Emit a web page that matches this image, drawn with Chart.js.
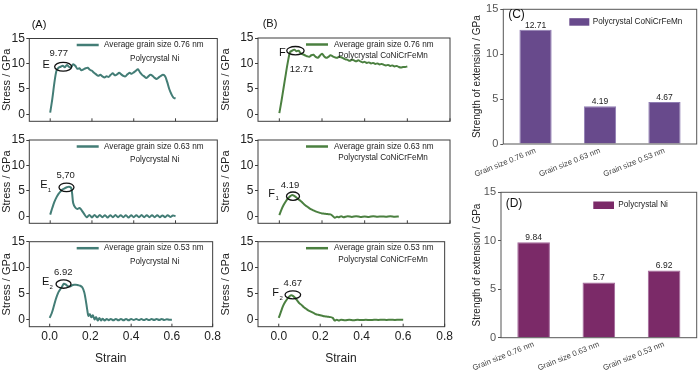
<!DOCTYPE html>
<html><head><meta charset="utf-8">
<script src="https://cdn.jsdelivr.net/npm/chart.js@4.4.0/dist/chart.umd.min.js"></script>
<style>
html,body{margin:0;padding:0;background:#fff;width:700px;height:382px;overflow:hidden;}
canvas{position:absolute;}
</style></head><body>
<canvas id="a1" width="224" height="130" style="left:0;top:0"></canvas>
<canvas id="a2" width="224" height="104" style="left:0;top:128px"></canvas>
<canvas id="a3" width="224" height="150" style="left:0;top:232px"></canvas>
<canvas id="b1" width="240" height="130" style="left:216px;top:0"></canvas>
<canvas id="b2" width="240" height="104" style="left:216px;top:128px"></canvas>
<canvas id="b3" width="240" height="150" style="left:216px;top:232px"></canvas>
<canvas id="c" width="240" height="186" style="left:460px;top:0"></canvas>
<canvas id="d" width="240" height="200" style="left:460px;top:182px"></canvas>
<script>
// ---------- data ----------
const strainTicks = [0, 0.2, 0.4, 0.6, 0.8];
const strainTickLabels = ['0.0', '0.2', '0.4', '0.6', '0.8'];
const stressTicks = [0, 5, 10, 15];
const stressTickLabels = ['0', '5', '10', '15'];

const grid61 = [0,0.01,0.02,0.03,0.04,0.05,0.06,0.07,0.08,0.09,0.10,0.11,0.12,0.13,0.14,0.15,0.16,0.17,0.18,0.19,0.20,0.21,0.22,0.23,0.24,0.25,0.26,0.27,0.28,0.29,0.30,0.31,0.32,0.33,0.34,0.35,0.36,0.37,0.38,0.39,0.40,0.41,0.42,0.43,0.44,0.45,0.46,0.47,0.48,0.49,0.50,0.51,0.52,0.53,0.54,0.55,0.56,0.57,0.58,0.59,0.60];

// Polycrystal Ni, 0.76 nm
const strainNi76 = grid61;
const stressNi76 = [0.3,3.0,6.2,8.6,9.2,9.4,9.6,9.3,9.77,9.4,9.3,9.9,9.6,9.0,9.1,8.7,8.9,9.1,9.2,8.8,8.6,8.2,7.9,7.6,7.8,7.5,7.3,7.5,7.4,7.8,8.1,7.7,7.9,8.2,7.9,7.6,7.5,7.9,8.2,8.0,8.3,8.6,8.9,8.3,7.8,7.5,7.2,7.5,7.8,7.6,7.2,7.0,7.3,7.6,7.8,7.5,6.4,5.0,4.0,3.3,3.1];

// Polycrystal Ni, 0.63 nm
const strainNi63 = [0,0.01,0.02,0.03,0.04,0.05,0.06,0.07,0.08,0.09,0.10,0.105,0.11,0.12,0.13,0.14,0.15,0.16,0.175,0.1875,0.2,0.2125,0.225,0.2375,0.25,0.2625,0.275,0.2875,0.3,0.3125,0.325,0.3375,0.35,0.3625,0.375,0.3875,0.4,0.4125,0.425,0.4375,0.45,0.4625,0.475,0.4875,0.5,0.5125,0.525,0.5375,0.55,0.5625,0.575,0.5875,0.6];
const stressNi63 = [0.3,1.6,2.8,3.7,4.4,4.9,5.3,5.5,5.7,5.8,5.6,4.5,2.6,1.7,1.4,1.6,1.2,0.6,-0.2,0.25,-0.25,0.25,-0.2,0.25,-0.2,0.2,-0.25,0.2,-0.2,0.25,-0.2,0.2,-0.2,0.2,-0.25,0.2,-0.2,0.2,-0.2,0.25,-0.2,0.2,-0.2,0.2,-0.2,0.2,-0.2,0.15,-0.2,0.2,-0.15,0.15,0.0];

// Polycrystal Ni, 0.53 nm
const strainNi53 = [0,0.01,0.02,0.03,0.04,0.05,0.06,0.07,0.08,0.09,0.10,0.11,0.12,0.13,0.14,0.15,0.16,0.17,0.175,0.18,0.185,0.19,0.197,0.205,0.212,0.22,0.228,0.236,0.244,0.252,0.26,0.27,0.28,0.29,0.3,0.3125,0.325,0.3375,0.35,0.3625,0.375,0.3875,0.4,0.4125,0.425,0.4375,0.45,0.4625,0.475,0.4875,0.5,0.5125,0.525,0.5375,0.55,0.5625,0.575,0.5875,0.6];
const stressNi53 = [0.3,1.2,2.5,3.9,5.0,5.7,6.3,6.9,6.7,6.4,6.35,6.6,6.7,6.7,6.6,6.5,6.2,5.2,4.2,3.0,1.7,0.7,1.0,0.4,0.8,0.0,0.45,-0.2,0.3,-0.2,0.15,-0.2,0.1,-0.15,0.1,-0.15,0.1,-0.15,0.1,-0.15,0.1,-0.15,0.1,-0.12,0.1,-0.12,0.08,-0.12,0.08,-0.12,0.08,-0.1,0.08,-0.1,0.08,-0.1,0.05,-0.08,-0.05];

// Polycrystal CoNiCrFeMn, 0.76 nm
const strainCo76 = grid61;
const stressCo76 = [0.2,2.6,5.2,7.8,10.3,12.2,12.5,12.71,12.4,12.5,12.0,11.8,11.6,11.4,11.3,11.6,11.7,11.3,11.1,11.5,11.9,11.4,11.1,11.3,11.6,11.4,11.2,11.1,11.3,11.2,11.0,10.8,10.7,10.5,10.7,10.6,10.4,10.6,10.4,10.2,10.3,10.1,10.2,10.0,10.1,9.9,10.0,9.8,9.9,9.7,9.6,9.7,9.5,9.6,9.4,9.5,9.3,9.2,9.3,9.3,9.4];

// Polycrystal CoNiCrFeMn, 0.63 nm
const strainCo63 = [0,0.01,0.02,0.03,0.04,0.05,0.06,0.07,0.08,0.09,0.10,0.11,0.12,0.13,0.14,0.15,0.16,0.17,0.18,0.19,0.20,0.21,0.22,0.23,0.24,0.25,0.26,0.27,0.28,0.29,0.30,0.32,0.34,0.36,0.38,0.40,0.42,0.44,0.46,0.48,0.50,0.52,0.54,0.56];
const stressCo63 = [0.2,1.3,2.2,2.9,3.5,3.9,4.19,4.0,3.7,3.3,3.0,2.6,2.2,1.9,1.6,1.35,1.15,0.95,0.8,0.65,0.55,0.5,0.45,0.4,0.35,0.05,-0.3,-0.1,-0.2,0.0,-0.2,0.0,-0.15,0.0,-0.15,-0.05,-0.15,0.0,-0.1,-0.05,-0.1,0.0,-0.1,-0.05];

// Polycrystal CoNiCrFeMn, 0.53 nm
const strainCo53 = [0,0.01,0.02,0.03,0.04,0.05,0.06,0.07,0.08,0.09,0.10,0.11,0.12,0.13,0.14,0.15,0.16,0.17,0.18,0.19,0.20,0.21,0.22,0.23,0.24,0.25,0.26,0.27,0.28,0.29,0.30,0.32,0.34,0.36,0.38,0.40,0.42,0.44,0.46,0.48,0.50,0.52,0.54,0.56,0.58,0.60];
const stressCo53 = [0.3,1.4,2.5,3.3,3.9,4.4,4.67,4.5,4.1,3.6,3.1,2.8,2.4,2.1,1.8,1.6,1.4,1.2,1.0,0.9,0.8,0.7,0.6,0.55,0.5,0.45,0.3,-0.2,-0.05,-0.2,-0.05,-0.15,-0.05,-0.15,-0.05,-0.12,-0.05,-0.12,-0.05,-0.1,-0.05,-0.1,-0.05,-0.1,-0.05,-0.08];

const peakLabelsNi = ['9.77', '5,70', '6.92'];
const peakLabelsCo = ['12.71', '4.19', '4.67'];
const legendSizes = ['Average grain size 0.76 nm', 'Average grain size 0.63 nm', 'Average grain size 0.53 nm'];

const grainLabels = ['Grain size 0.76 nm', 'Grain size 0.63 nm', 'Grain size 0.53 nm'];
const strengthCoNi = [12.71, 4.19, 4.67];
const strengthNi = [9.84, 5.7, 6.92];
const strengthTicks = [0, 5, 10, 15];

// ---------- styling ----------
const FAM = '"Liberation Sans", Arial, Helvetica, sans-serif';
Chart.defaults.font.family = FAM;
Chart.defaults.color = '#222';
const F = (s) => s + 'px ' + FAM;
const colNi = '#437d76';
const colCo = '#4b8040';
const colBarCo = '#684a8c';
const colBarNi = '#7b2a68';

const deco = {
  id: 'deco',
  afterDraw(chart, _a, o) {
    if (!o || !o.on) return;
    const c = chart.ctx, a = chart.chartArea, X = chart.scales.x, Y = chart.scales.y;
    c.save();
    c.strokeStyle = o.frame; c.lineWidth = 1;
    c.strokeRect(a.left, a.top, a.right - a.left, a.bottom - a.top);
    if (o.inTicks) {
      c.beginPath();
      o.inTicks.forEach(v => { const px = X.getPixelForValue(v); c.moveTo(px, a.bottom); c.lineTo(px, a.bottom - 3); });
      c.stroke();
    }
    c.fillStyle = '#222'; c.textBaseline = 'middle';
    if (o.legend) {
      const L = o.legend;
      if (L.box) {
        c.fillStyle = L.color; c.fillRect(a.left + L.x0, a.top + L.y1 - 3.5, L.len, 7.5);
        c.fillStyle = '#222';
      } else {
        c.strokeStyle = L.color; c.lineWidth = 2.5; c.beginPath();
        c.moveTo(a.left + L.x0, a.top + L.y1); c.lineTo(a.left + L.x0 + L.len, a.top + L.y1); c.stroke();
      }
      c.font = F(L.size); c.textAlign = 'left';
      c.fillText(L.t1, a.left + L.xt, a.top + L.y1);
      if (L.t2) c.fillText(L.t2, a.left + L.x2, a.top + L.y2);
    }
    if (o.ann) {
      const A = o.ann;
      c.strokeStyle = '#111'; c.lineWidth = 1.3; c.beginPath();
      c.ellipse(X.getPixelForValue(A.ex), Y.getPixelForValue(A.ey), A.rx, A.ry, 0, 0, Math.PI * 2); c.stroke();
      c.textAlign = 'center'; c.font = F(9.5); c.fillStyle = '#222';
      c.fillText(A.label, X.getPixelForValue(A.lx), Y.getPixelForValue(A.ly));
      const tx = X.getPixelForValue(A.tx), ty = Y.getPixelForValue(A.ty);
      c.font = F(11); c.fillStyle = '#111';
      c.fillText(A.letter, tx, ty);
      if (A.sub) { c.font = F(6); c.fillText(A.sub, tx + 5.6, ty + 5); }
    }
    if (o.panel) {
      c.font = F(o.panel.size); c.textAlign = 'center'; c.fillStyle = '#111';
      c.fillText(o.panel.text, a.left + o.panel.dx, a.top + o.panel.dy);
    }
    if (o.xTitle) {
      c.font = F(12); c.textAlign = 'center'; c.fillStyle = '#222';
      c.fillText(o.xTitle.text, X.getPixelForValue(o.xTitle.at), a.bottom + o.xTitle.dy);
    }
    if (o.barLabels) {
      c.font = F(8.5); c.textAlign = 'center'; c.fillStyle = '#222';
      const meta = chart.getDatasetMeta(0);
      meta.data.forEach((el, i) => c.fillText(String(chart.data.datasets[0].data[i]), el.x, el.y - 4.5));
    }
    c.restore();
  }
};
Chart.register(deco);

function lineChart(id, xs, ys, color, L) {
  return new Chart(document.getElementById(id), {
    type: 'line',
    data: { datasets: [{ data: xs.map((x, i) => ({ x: x, y: ys[i] })), borderColor: color, borderWidth: 2, pointRadius: 0, tension: 0.3, fill: false }] },
    options: {
      responsive: false, animation: false, events: [],
      layout: { padding: { top: L.padTop, right: L.padRight, left: 0, bottom: 0 } },
      plugins: {
        legend: { display: false }, tooltip: { enabled: false },
        deco: { on: true, frame: '#3c3c3c', inTicks: strainTicks, legend: L.legend, ann: L.ann, panel: L.panel, xTitle: L.xTitle }
      },
      scales: {
        x: {
          type: 'linear', min: -0.1, max: 0.8,
          afterBuildTicks: s => { s.ticks = strainTicks.map(v => ({ value: v })); },
          afterFit: s => { s.height = L.xH; },
          grid: { display: false, drawTicks: false, tickLength: 0 }, border: { display: false },
          ticks: { display: L.showX, padding: 3, font: { size: 12 }, color: '#222', callback: (v, i) => strainTickLabels[i] }
        },
        y: {
          min: -1.4, max: 15,
          afterBuildTicks: s => { s.ticks = stressTicks.map(v => ({ value: v })); },
          afterFit: s => { s.width = L.yW; },
          grid: { drawOnChartArea: false, tickLength: 3, color: '#3c3c3c' }, border: { display: false },
          ticks: { padding: 1.5, font: { size: 12 }, color: '#222', callback: (v, i) => stressTickLabels[i] },
          title: { display: true, text: 'Stress / GPa', font: { size: 11 }, color: '#222', padding: { top: L.tPad, bottom: 0 } }
        }
      }
    }
  });
}

function barChart(id, vals, color, border, L) {
  return new Chart(document.getElementById(id), {
    type: 'bar',
    data: { labels: grainLabels, datasets: [{ data: vals, backgroundColor: color, borderColor: border, borderWidth: 1, categoryPercentage: 0.5, barPercentage: 1 }] },
    options: {
      responsive: false, animation: false, events: [],
      layout: { padding: { top: L.padTop, right: L.padRight, left: 0, bottom: 0 } },
      plugins: {
        legend: { display: false }, tooltip: { enabled: false },
        deco: { on: true, frame: '#555', legend: L.legend, panel: L.panel, barLabels: true }
      },
      scales: {
        x: {
          afterFit: s => { s.height = L.xH; },
          grid: { display: false, drawTicks: false, tickLength: 0 }, border: { display: false },
          ticks: { minRotation: 22, maxRotation: 22, autoSkip: false, padding: 2, font: { size: 7.8 }, color: '#444' }
        },
        y: {
          min: 0, max: 15,
          afterBuildTicks: s => { s.ticks = strengthTicks.map(v => ({ value: v })); },
          afterFit: s => { s.width = L.yW; },
          grid: { drawOnChartArea: false, tickLength: 3, color: '#555' }, border: { display: false },
          ticks: { padding: 2, font: { size: 11 }, color: '#555' },
          title: { display: true, text: 'Strength of extension / GPa', font: { size: 10 }, color: '#222', padding: { top: L.tPad, bottom: 0 } }
        }
      }
    }
  });
}

const legA = (i) => ({ x0: 47.4, y1: 6.5, len: 22, xt: 74.7, t1: legendSizes[i], x2: 100.7, y2: 20, t2: 'Polycrystal Ni', size: 8.2, color: colNi });
const legB = (i) => ({ x0: 48, y1: 6.5, len: 22, xt: 76, t1: legendSizes[i], x2: 80.3, y2: 18, t2: 'Polycrystal CoNiCrFeMn', size: 8.2, color: colCo });

lineChart('a1', strainNi76, stressNi76, colNi, {
  padTop: 38.5, padRight: 6.7, xH: 6.3, yW: 29.3, tPad: 0, showX: false, legend: legA(0),
  ann: { ex: 0.062, ey: 9.4, rx: 8.5, ry: 4.4, label: peakLabelsNi[0], lx: 0.041, ly: 11.96, letter: 'E', sub: '', tx: -0.019, ty: 9.7 },
  panel: { text: '(A)', dx: 9.7, dy: -13.8, size: 11 }
});
lineChart('a2', strainNi63, stressNi63, colNi, {
  padTop: 12, padRight: 6.7, xH: 7, yW: 29.3, tPad: 0, showX: false, legend: legA(1),
  ann: { ex: 0.078, ey: 5.68, rx: 7.5, ry: 4.3, label: peakLabelsNi[1], lx: 0.074, ly: 8.1, letter: 'E', sub: '1', tx: -0.03, ty: 6.1 }
});
lineChart('a3', strainNi53, stressNi53, colNi, {
  padTop: 9.7, padRight: 6.7, xH: 55.3, yW: 29.3, tPad: 0, showX: true, legend: legA(2),
  ann: { ex: 0.068, ey: 6.83, rx: 7.5, ry: 4.2, label: peakLabelsNi[2], lx: 0.067, ly: 9.0, letter: 'E', sub: '2', tx: -0.02, ty: 7.2 },
  xTitle: { text: 'Strain', at: 0.3, dy: 32 }
});
lineChart('b1', strainCo76, stressCo76, colCo, {
  padTop: 38, padRight: 6, xH: 6.6, yW: 42, tPad: 3.4, showX: false, legend: legB(0),
  ann: { ex: 0.0755, ey: 12.5, rx: 8.7, ry: 4.2, label: peakLabelsCo[0], lx: 0.104, ly: 8.8, letter: 'F', sub: '', tx: 0.014, ty: 12.1 },
  panel: { text: '(B)', dx: 12, dy: -14, size: 11 }
});
lineChart('b2', strainCo63, stressCo63, colCo, {
  padTop: 12, padRight: 6, xH: 7, yW: 42, tPad: 3.4, showX: false, legend: legB(1),
  ann: { ex: 0.064, ey: 3.94, rx: 6.5, ry: 4.2, label: peakLabelsCo[1], lx: 0.05, ly: 6.1, letter: 'F', sub: '1', tx: -0.036, ty: 4.4 }
});
lineChart('b3', strainCo53, stressCo53, colCo, {
  padTop: 9.7, padRight: 6, xH: 55.3, yW: 42, tPad: 3.4, showX: true, legend: legB(2),
  ann: { ex: 0.068, ey: 4.75, rx: 7.8, ry: 4.0, label: peakLabelsCo[2], lx: 0.068, ly: 7.0, letter: 'F', sub: '2', tx: -0.015, ty: 5.1 },
  xTitle: { text: 'Strain', at: 0.3, dy: 32 }
});

barChart('c', strengthCoNi, colBarCo, '#8f7db3', {
  padTop: 9.3, padRight: 3.3, xH: 42, yW: 43.3, tPad: 11.7,
  legend: { box: true, x0: 66, y1: 12.4, len: 20, xt: 89.4, t1: 'Polycrystal CoNiCrFeMn', size: 8.2, color: colBarCo },
  panel: { text: '(C)', dx: 13.2, dy: 5.7, size: 12 }
});
barChart('d', strengthNi, colBarNi, '#a3679a', {
  padTop: 10.3, padRight: 3.3, xH: 44.3, yW: 41, tPad: 11.5,
  legend: { box: true, x0: 92.3, y1: 12.7, len: 20.7, xt: 117.3, t1: 'Polycrystal Ni', size: 8.2, color: colBarNi },
  panel: { text: '(D)', dx: 13, dy: 11, size: 12 }
});
</script>
</body></html>
